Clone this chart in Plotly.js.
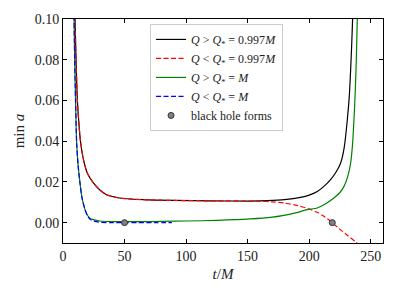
<!DOCTYPE html>
<html><head><meta charset="utf-8">
<script src="https://cdn.plot.ly/plotly-3.0.1.min.js"></script>
<style>html,body{margin:0;padding:0;background:#fff}#plot{width:396px;height:297px}</style>
</head><body><div id="plot"></div>
<script>
// Q > Q* = 0.997M (black, solid)
const blackT = [9.2, 9.8, 10.6, 11.7, 13, 14.4, 17, 20, 24.7, 30, 35, 46, 65, 90, 120, 152, 166, 180, 193, 200, 206.6, 212, 217.4, 222, 225.6, 228.5, 231, 232.6, 233.7, 234.6, 235.3, 235.8];
const blackV = [0.12, 0.100, 0.080, 0.060, 0.048, 0.039, 0.030, 0.024, 0.0195, 0.016, 0.0138, 0.0121, 0.0113, 0.0109, 0.0107, 0.0106, 0.0108, 0.0113, 0.0124, 0.0135, 0.0153, 0.0178, 0.0211, 0.025, 0.0293, 0.037, 0.0505, 0.062, 0.075, 0.088, 0.100, 0.11];
// Q < Q* = 0.997M (red, dashed)
const redT = [9.2, 9.8, 10.6, 11.7, 13, 14.4, 17, 20, 24.7, 30, 35, 46, 65, 90, 120, 152, 160, 170, 180, 190, 200, 206, 212, 218.8, 225, 231, 237.8, 239.5];
const redV = [0.12, 0.100, 0.080, 0.060, 0.048, 0.039, 0.030, 0.024, 0.0195, 0.016, 0.0138, 0.0121, 0.0113, 0.0109, 0.0107, 0.0106, 0.0105, 0.0102, 0.0096, 0.0085, 0.0067, 0.0052, 0.0031, 0.0, -0.0033, -0.0062, -0.0095, -0.0105];
// Q > Q* = M (green, solid)
const greenT = [8.6, 9, 9.5, 10.2, 11.1, 12.3, 13.8, 15.5, 17.9, 20, 22, 24.7, 30, 40, 60, 80, 100, 125, 152, 170, 179.4, 190, 198.4, 206.6, 214, 220.1, 225, 228.3, 231.5, 233.7, 235.2, 236.4, 237.5, 238.4, 239.1, 239.5];
const greenV = [0.12, 0.100, 0.080, 0.060, 0.039, 0.028, 0.0195, 0.012, 0.0064, 0.0035, 0.0022, 0.0015, 0.0008, 0.0005, 0.0005, 0.0006, 0.0008, 0.0011, 0.0018, 0.0027, 0.0036, 0.0049, 0.0064, 0.0072, 0.0095, 0.0121, 0.0148, 0.0178, 0.023, 0.0293, 0.038, 0.0505, 0.065, 0.082, 0.100, 0.11];
// Q < Q* = M (blue, dashed)
const blueT = [8.6, 9, 9.5, 10.2, 11.1, 12.3, 13.8, 15.5, 17.9, 20, 22, 24.7, 30, 40, 50, 60, 75, 88.5];
const blueV = [0.12, 0.100, 0.080, 0.060, 0.039, 0.028, 0.0195, 0.012, 0.0064, 0.0032, 0.0016, 0.0008, 0.0002, 0.0, 0.0, 0.0, 0.0, 0.0];
// black hole formation points
const bhT = [50, 218.8];
const bhV = [0, 0];

const xTicks = [0, 50, 100, 150, 200, 250];
const yTicks = [0.00, 0.02, 0.04, 0.06, 0.08, 0.10];

const FONT = 'Liberation Serif, DejaVu Serif, serif';
const DASH = '5px,2.5px';
const traces = [
  {x: blackT, y: blackV, mode: 'lines', name: '<i>Q</i> > <i>Q</i><sub>*</sub> = 0.997<i>M</i>', line: {color: 'black', width: 1.2, shape: 'spline', smoothing: 0.8}},
  {x: redT, y: redV, mode: 'lines', name: '<i>Q</i> < <i>Q</i><sub>*</sub> = 0.997<i>M</i>', line: {color: 'red', width: 1.2, dash: DASH, shape: 'spline', smoothing: 0.8}},
  {x: greenT, y: greenV, mode: 'lines', name: '<i>Q</i> > <i>Q</i><sub>*</sub> = <i>M</i>', line: {color: 'green', width: 1.2, shape: 'spline', smoothing: 0.8}},
  {x: blueT, y: blueV, mode: 'lines', name: '<i>Q</i> < <i>Q</i><sub>*</sub> = <i>M</i>', line: {color: 'blue', width: 1.2, dash: DASH, shape: 'spline', smoothing: 0.8}},
  {x: bhT, y: bhV, mode: 'markers', name: 'black hole forms', marker: {color: 'gray', size: 6, line: {color: '#333', width: 1}}}
];
const layout = {
  width: 396, height: 297,
  margin: {l: 63, r: 13, t: 19, b: 54},
  paper_bgcolor: 'white', plot_bgcolor: 'white',
  font: {family: FONT, size: 14, color: '#222'},
  showlegend: true,
  legend: {x: 0.272, y: 0.978, xanchor: 'left', yanchor: 'top', bgcolor: 'rgba(255,255,255,0.8)', bordercolor: '#ccc', borderwidth: 1, font: {family: FONT, size: 12}, tracegroupgap: 0},
  xaxis: {range: [0, 260], tickvals: xTicks, ticktext: xTicks.map(String), ticks: 'inside', ticklen: 4, tickcolor: 'black', showline: true, linecolor: 'black', linewidth: 1, mirror: 'ticks', showgrid: false, zeroline: false,
    title: {text: '<i>t</i>/<i>M</i>', font: {family: FONT, size: 15}, standoff: 5}},
  yaxis: {range: [-0.01, 0.10], tickvals: yTicks, ticktext: yTicks.map(v => v.toFixed(2)), ticks: 'inside', ticklen: 4, tickcolor: 'black', showline: true, linecolor: 'black', linewidth: 1, mirror: 'ticks', showgrid: false, zeroline: false,
    title: {text: 'min <i>a</i>', font: {family: FONT, size: 15}, standoff: 6}}
};
Plotly.newPlot('plot', traces, layout, {staticPlot: true, displayModeBar: false});
</script></body></html>
